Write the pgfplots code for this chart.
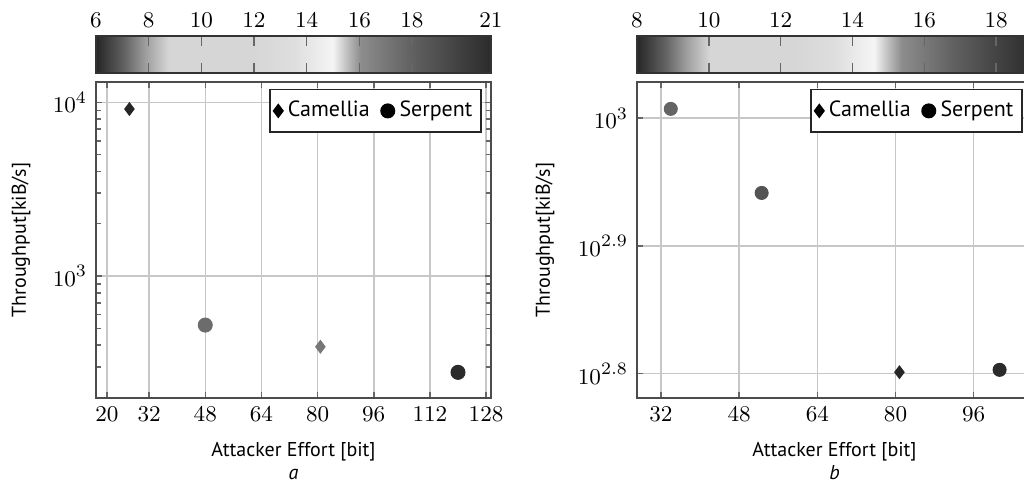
\documentclass[border=0pt]{standalone}
\usepackage{pgfplots}
\pgfplotsset{compat=1.18}
\usepackage{fontspec}
\setmainfont{PT Sans}
\begin{document}
\begin{tikzpicture}
\useasboundingbox (0,0) rectangle (409.6pt,193.2pt);
\pgfplotsset{
  colormap={mygray}{gray(0cm)=(0.15); gray(7cm)=(0.38); gray(13cm)=(0.64); gray(18.5cm)=(0.84); gray(40cm)=(0.84); gray(50cm)=(0.87); gray(60cm)=(0.96); gray(63.5cm)=(0.75); gray(67cm)=(0.55); gray(80cm)=(0.38); gray(100cm)=(0.17)},
  myaxis/.style={
    width=158pt, height=126.4pt, scale only axis,
    anchor=south west,
    grid=major,
    major grid style={line width=0.6pt, draw=black!22},
    axis line style={line width=0.8pt, draw=black!70},
    every tick/.style={line width=0.6pt, draw=black!60},
    major tick length=2.4pt, minor tick length=2pt,
    tick label style={font=\fontsize{9.5}{11}\selectfont},
    label style={font=\fontsize{8}{9.2}\selectfont},
    ylabel={Throughput[kiB/s]},
    legend columns=2,
    legend style={at={(0.977,0.978)}, anchor=north east, draw=black!85, line width=0.6pt,
      font=\fontsize{8.8}{10}\selectfont, inner xsep=1.5pt, inner ysep=2.6pt,
      /tikz/every even column/.append style={column sep=2.5pt}},
    legend image code/.code={\draw[mark repeat=2,mark phase=2,#1] plot coordinates {(0pt,0pt) (2.5pt,0pt) (5pt,0pt)};},
    colorbar horizontal,
    colormap name=mygray,
    colorbar style={at={(0,1.0285)}, anchor=south west, scale only axis, width=158pt, height=14.8pt,
      xtick pos=both, xticklabel pos=upper, xtick align=inside, major tick length=4pt,
      every tick/.style={line width=0.6pt, draw=black!60},
      axis line style={line width=0.6pt, draw=black!80},
      tick label style={font=\fontsize{9.5}{11}\selectfont}},
  },
  mark a/.style={scatter, only marks, point meta=explicit, forget plot,
    scatter/use mapped color={draw=mapped color, fill=mapped color}},
}
% ---------- panel a ----------
\begin{axis}[myaxis, at={(38.4pt,34pt)},
  xmin=16.87, xmax=129.4, xtick={20,32,48,64,80,96,112,128},
  ymode=log, ymin=198.6, ymax=13092,
  point meta min=6, point meta max=21,
  colorbar style={xtick={6,8,10,12,14,16,18,21}},
  xlabel={Attacker Effort [bit]\\\textit{a}},
  xlabel style={align=center, at={(axis description cs:0.5,-0.198)}, anchor=center},
  ylabel style={at={(axis description cs:-0.19,0.5)}, anchor=center},
]
\addlegendimage{only marks, mark=diamond*, mark size=2.5pt, black}
\addlegendentry{Camellia}
\addlegendimage{only marks, mark=*, mark size=2.7pt, black}
\addlegendentry{Serpent}
\addplot[mark a, mark=diamond*, mark size=2.5pt] table[meta=c] {
x y c
26.4 9150 6
80.8 391.7 17
};
\addplot[mark a, mark=*, mark size=2.8pt] table[meta=c] {
x y c
48 522 17.5
120 279 21
};
\end{axis}
% ---------- panel b ----------
\begin{axis}[myaxis, at={(254.8pt,34pt)},
  xmin=27.09, xmax=107.93, xtick={32,48,64,80,96},
  ymode=log, ymin=603.9, ymax=1067.6,
  ytick={630.957,794.328,1000},
  yticklabels={$10^{2.8}$,$10^{2.9}$,$10^{3}$},
  point meta min=8, point meta max=19,
  colorbar style={xtick={8,10,12,14,16,18}},
  xlabel={Attacker Effort [bit]\\\textit{b}},
  xlabel style={align=center, at={(axis description cs:0.5,-0.198)}, anchor=center},
  ylabel style={at={(axis description cs:-0.233,0.5)}, anchor=center},
]
\addlegendimage{only marks, mark=diamond*, mark size=2.5pt, black}
\addlegendentry{Camellia}
\addlegendimage{only marks, mark=*, mark size=2.7pt, black}
\addlegendentry{Serpent}
\addplot[mark a, mark=diamond*, mark size=2.5pt] table[meta=c] {
x y c
80.8 632.6 8
};
\addplot[mark a, mark=*, mark size=2.6pt] table[meta=c] {
x y c
34 1017 16.7
52.6 874 17.35
101.3 635.3 19
};
\end{axis}
\end{tikzpicture}
\end{document}
